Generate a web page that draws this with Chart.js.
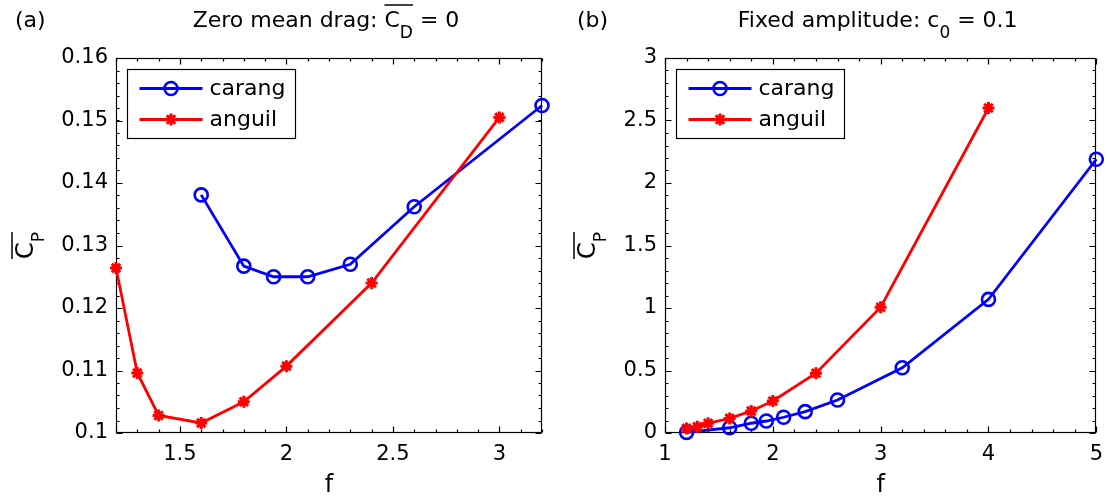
<!DOCTYPE html>
<html>
<head>
<meta charset="UTF-8">
<title>Mean power coefficient vs frequency</title>
<script src="https://cdn.jsdelivr.net/npm/chart.js"></script>
<style>
  body { margin: 0; background: #fff; }
  .wrap { display: flex; width: 1112px; height: 497px; }
  canvas { display: block; }
</style>
</head>
<body>
<div class="wrap">
  <canvas id="chartA" width="556" height="497"></canvas>
  <canvas id="chartB" width="556" height="497"></canvas>
</div>
<script>
// (a) zero mean drag
const fA_carang = [1.6, 1.8, 1.94, 2.1, 2.3, 2.6, 3.2];
const cpA_carang = [0.1381, 0.1267, 0.1250, 0.1250, 0.1270, 0.1362, 0.1524];
const fA_anguil = [1.2, 1.3, 1.4, 1.6, 1.8, 2.0, 2.4, 3.0];
const cpA_anguil = [0.1264, 0.1096, 0.1028, 0.1016, 0.1050, 0.1107, 0.1240, 0.1505];

// (b) fixed amplitude
const fB_carang = [1.2, 1.6, 1.8, 1.94, 2.1, 2.3, 2.6, 3.2, 4.0, 5.0];
const cpB_carang = [0.005, 0.042, 0.078, 0.096, 0.126, 0.171, 0.264, 0.522, 1.069, 2.19];
const fB_anguil = [1.2, 1.3, 1.4, 1.6, 1.8, 2.0, 2.4, 3.0, 4.0];
const cpB_anguil = [0.037, 0.05, 0.078, 0.117, 0.176, 0.256, 0.478, 1.006, 2.6];

// tick labels
const xTicksA = [1.5, 2, 2.5, 3];
const yTicksA = [0.1, 0.11, 0.12, 0.13, 0.14, 0.15, 0.16];
const xTicksB = [1, 2, 3, 4, 5];
const yTicksB = [0, 0.5, 1, 1.5, 2, 2.5, 3];

const seriesNames = ['carang', 'anguil'];

const FONT = 'DejaVu Sans';
const BLUE = '#0000ff';
const RED = '#ff0000';

// text with subscripts / overline, centred on x
function richText(ctx, segs, x, y, size, subSize, subDy, overDy) {
  const w = segs.map(s => {
    ctx.font = (s.sub ? subSize : size) + 'px "' + FONT + '"';
    return ctx.measureText(s.t).width;
  });
  const total = w.reduce((a, b) => a + b, 0);
  let cx = x - total / 2;
  let o0 = null, o1 = null;
  ctx.textAlign = 'left';
  ctx.textBaseline = 'alphabetic';
  segs.forEach((s, i) => {
    ctx.font = (s.sub ? subSize : size) + 'px "' + FONT + '"';
    ctx.fillText(s.t, cx, s.sub ? y + subDy : y);
    if (s.over) { if (o0 === null) o0 = cx; o1 = cx + w[i]; }
    cx += w[i];
  });
  if (o0 !== null) {
    ctx.lineWidth = 1.5;
    ctx.beginPath();
    ctx.moveTo(o0, y - overDy);
    ctx.lineTo(o1, y - overDy);
    ctx.stroke();
  }
}

function steps(min, max, step) {
  const out = [];
  const n = Math.round((max - min) / step);
  for (let i = 0; i <= n; i++) out.push(min + i * step);
  return out;
}

function panelPlugin(p) {
  return {
    id: 'panel',
    beforeDatasetsDraw(chart) {
      const ctx = chart.ctx;
      const a = chart.chartArea;
      const xs = chart.scales.x, ys = chart.scales.y;
      ctx.save();
      ctx.strokeStyle = '#000';
      ctx.lineWidth = 1.2;
      const L = Math.round(a.left) + 0.5, R = Math.round(a.right) - 0.5;
      const T = Math.round(a.top) + 0.5, B = Math.round(a.bottom) - 0.5;
      ctx.strokeRect(L, T, R - L, B - T);
      ctx.beginPath();
      const tickX = (vals, len) => vals.forEach(v => {
        const px = Math.round(xs.getPixelForValue(v)) + 0.5;
        ctx.moveTo(px, B); ctx.lineTo(px, B - len);
        ctx.moveTo(px, T); ctx.lineTo(px, T + len);
      });
      const tickY = (vals, len) => vals.forEach(v => {
        const py = Math.round(ys.getPixelForValue(v)) + 0.5;
        ctx.moveTo(L, py); ctx.lineTo(L + len, py);
        ctx.moveTo(R, py); ctx.lineTo(R - len, py);
      });
      tickX(steps(p.xMin, p.xMax, p.xMinor), 3);
      tickY(steps(p.yMin, p.yMax, p.yMinor), 3);
      tickX(p.xTicks, 6);
      tickY(p.yTicks, 6);
      ctx.stroke();
      ctx.restore();
    },
    afterDatasetsDraw(chart) {
      const ctx = chart.ctx;
      const a = chart.chartArea;
      ctx.save();
      // legend box
      const bx = Math.round(a.left) + 11.5, by = Math.round(a.top) + 11.5;
      const bw = 168, bh = 69;
      ctx.fillStyle = '#fff';
      ctx.fillRect(bx, by, bw, bh);
      ctx.strokeStyle = '#000';
      ctx.lineWidth = 1.2;
      ctx.strokeRect(bx, by, bw, bh);
      chart.data.datasets.forEach((ds, i) => {
        const ry = by + 19 + i * 31;
        ctx.strokeStyle = ds.borderColor;
        ctx.lineWidth = ds.borderWidth;
        ctx.beginPath();
        ctx.moveTo(bx + 12, ry);
        ctx.lineTo(bx + 75, ry);
        ctx.stroke();
        ctx.fillStyle = 'rgba(0,0,0,0)';
        ctx.lineWidth = ds.pointBorderWidth;
        Chart.helpers.drawPoint(ctx, {
          pointStyle: ds.pointStyle, radius: ds.pointRadius,
          borderWidth: ds.pointBorderWidth, rotation: 0
        }, bx + 43.5, ry);
        ctx.fillStyle = '#000';
        ctx.font = '22px "' + FONT + '"';
        ctx.textAlign = 'left';
        ctx.textBaseline = 'middle';
        ctx.fillText(ds.label, bx + 82, ry + 1);
      });
      ctx.restore();
    },
    afterDraw(chart) {
      const ctx = chart.ctx;
      const a = chart.chartArea;
      const cx = (a.left + a.right) / 2;
      ctx.save();
      ctx.fillStyle = '#000';
      ctx.strokeStyle = '#000';
      // panel letter
      ctx.font = '22px "' + FONT + '"';
      ctx.textAlign = 'left';
      ctx.textBaseline = 'alphabetic';
      ctx.fillText(p.letter, p.letterX, 27);
      // title
      richText(ctx, p.title, cx - 3, 27, 22, 17, 11, 22);
      // x label
      ctx.font = '24px "' + FONT + '"';
      ctx.textAlign = 'center';
      ctx.fillText('f', cx, 492);
      // y label, rotated
      ctx.translate(p.ylabelX, (a.top + a.bottom) / 2);
      ctx.rotate(-Math.PI / 2);
      richText(ctx, [{ t: 'C', over: true }, { t: 'P', sub: true, over: true }], 0, 0, 24, 17, 11, 21);
      ctx.restore();
    }
  };
}

function makePanel(id, p) {
  const tickFont = { family: FONT, size: 21 };
  return new Chart(document.getElementById(id), {
    type: 'line',
    data: {
      datasets: [
        {
          label: seriesNames[0],
          data: p.cX.map((x, i) => ({ x: x, y: p.cY[i] })),
          borderColor: BLUE, borderWidth: 2.8,
          pointStyle: 'circle', pointRadius: 6.5, pointBorderWidth: 2.6,
          pointBorderColor: BLUE, pointBackgroundColor: 'rgba(0,0,0,0)',
          tension: 0, clip: false, order: 1
        },
        {
          label: seriesNames[1],
          data: p.aX.map((x, i) => ({ x: x, y: p.aY[i] })),
          borderColor: RED, borderWidth: 2.8,
          pointStyle: 'star', pointRadius: 6, pointBorderWidth: 3,
          pointBorderColor: RED, pointBackgroundColor: RED,
          tension: 0, clip: false, order: 0
        }
      ]
    },
    options: {
      responsive: false,
      animation: false,
      events: [],
      layout: { padding: { top: 58, right: p.padRight, left: 0, bottom: 0 } },
      plugins: { legend: { display: false }, tooltip: { enabled: false }, title: { display: false } },
      scales: {
        x: {
          type: 'linear', min: p.xMin, max: p.xMax,
          grid: { display: false, drawTicks: false },
          border: { display: false },
          afterBuildTicks: s => { s.ticks = p.xTicks.map(v => ({ value: v })); },
          afterFit: s => { s.height = 64; },
          ticks: { padding: 9, color: '#000', font: tickFont, maxRotation: 0, autoSkip: false,
                   callback: v => String(v) }
        },
        y: {
          type: 'linear', min: p.yMin, max: p.yMax,
          grid: { display: false, drawTicks: false },
          border: { display: false },
          afterBuildTicks: s => { s.ticks = p.yTicks.map(v => ({ value: v })); },
          afterFit: s => { s.width = p.yWidth; },
          ticks: { padding: 8, color: '#000', font: tickFont, autoSkip: false,
                   callback: v => String(v) }
        }
      }
    },
    plugins: [panelPlugin(p)]
  });
}

makePanel('chartA', {
  cX: fA_carang, cY: cpA_carang, aX: fA_anguil, aY: cpA_anguil,
  xMin: 1.2, xMax: 3.2, yMin: 0.1, yMax: 0.16,
  xTicks: xTicksA, yTicks: yTicksA, xMinor: 0.1, yMinor: 0.002,
  yWidth: 116, padRight: 14, ylabelX: 33, letter: '(a)', letterX: 15,
  title: [{ t: 'Zero mean drag: ' }, { t: 'C', over: true }, { t: 'D', sub: true, over: true }, { t: ' = 0' }]
});

makePanel('chartB', {
  cX: fB_carang, cY: cpB_carang, aX: fB_anguil, aY: cpB_anguil,
  xMin: 1, xMax: 5, yMin: 0, yMax: 3,
  xTicks: xTicksB, yTicks: yTicksB, xMinor: 0.2, yMinor: 0.1,
  yWidth: 109, padRight: 8, ylabelX: 39, letter: '(b)', letterX: 21,
  title: [{ t: 'Fixed amplitude: c' }, { t: '0', sub: true }, { t: ' = 0.1' }]
});
</script>
</body>
</html>
